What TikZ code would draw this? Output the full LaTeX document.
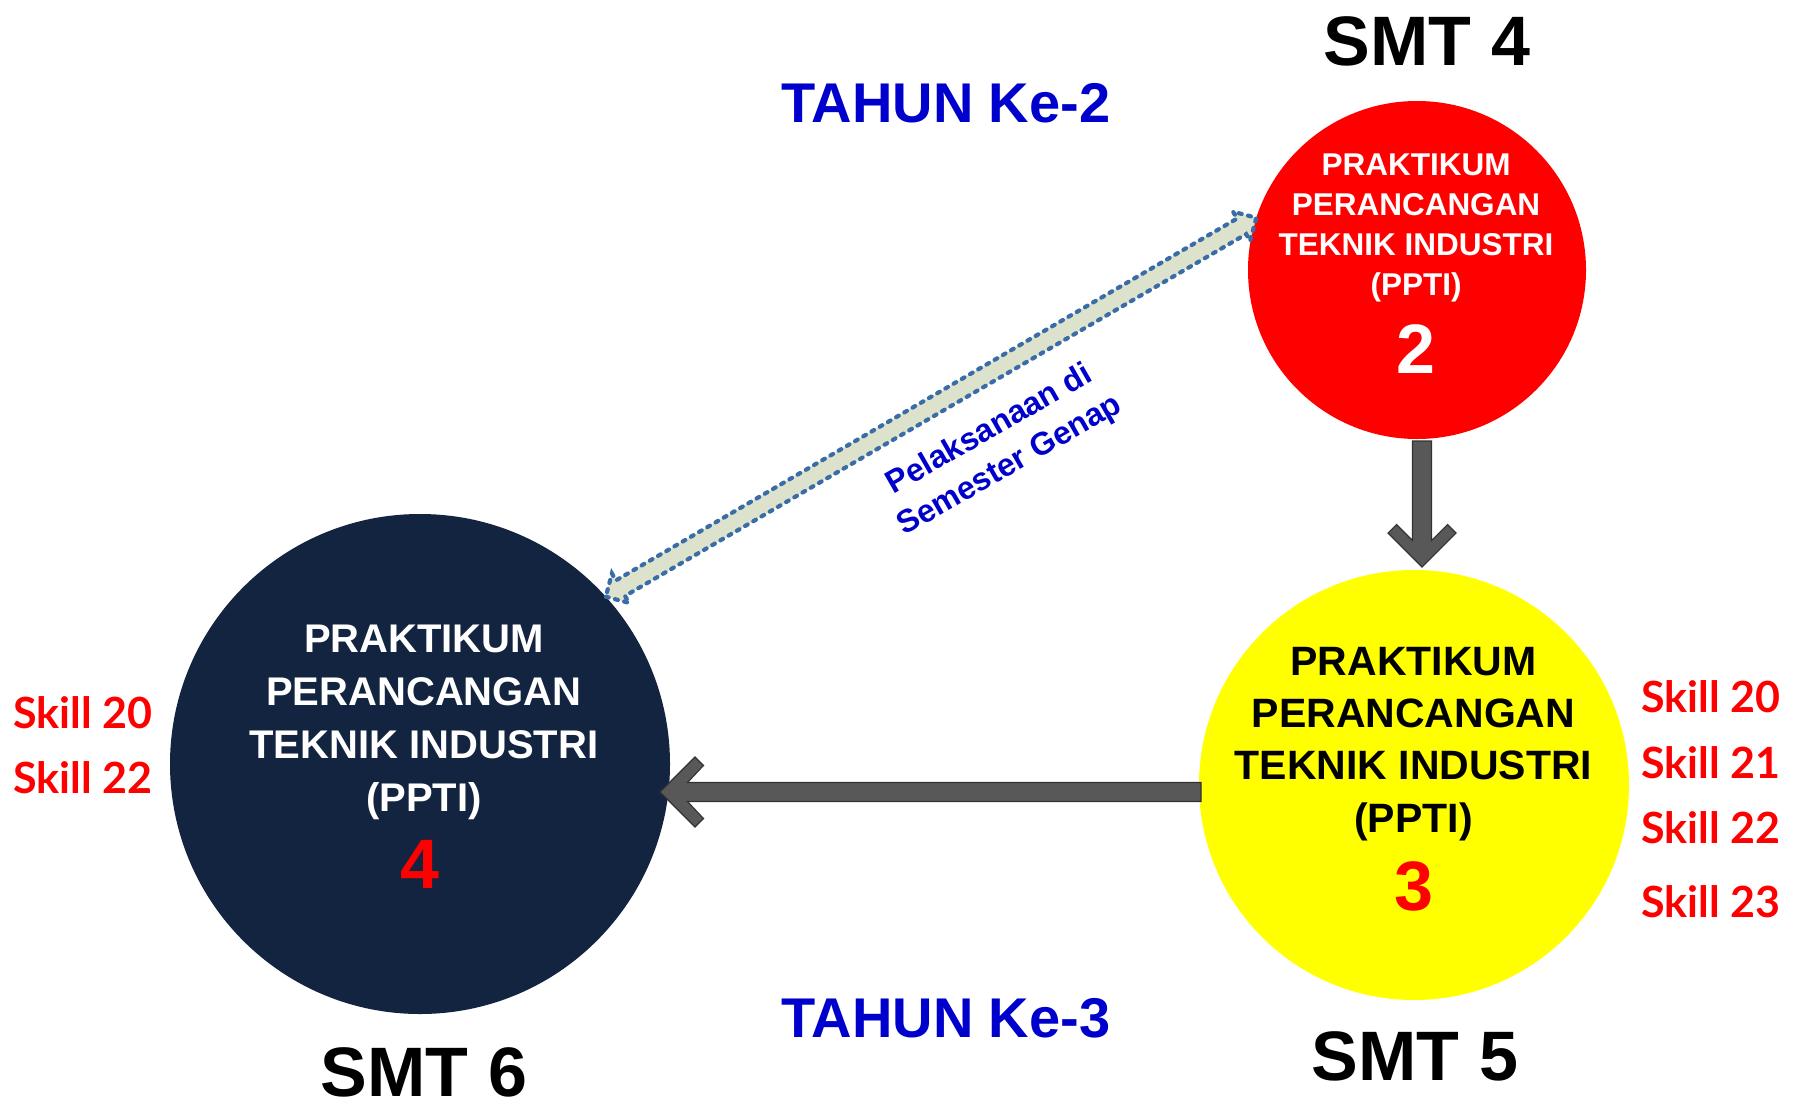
\documentclass[tikz,border=0pt]{standalone}
\usepackage{fontspec}
\setmainfont{Liberation Sans}
\newfontfamily\skillfont{Lato}
\usetikzlibrary{calc}
\definecolor{navyc}{RGB}{18,36,64}
\definecolor{redc}{RGB}{255,0,0}
\definecolor{yellowc}{RGB}{255,255,0}
\definecolor{bluec}{RGB}{0,0,204}
\definecolor{dotc}{RGB}{58,108,168}
\definecolor{sagec}{RGB}{221,226,204}
\definecolor{arrgray}{RGB}{88,88,88}
\definecolor{arredge}{RGB}{50,50,50}
\begin{document}
\begin{tikzpicture}[x=1pt,y=-1pt,
  circ/.style={circle,draw=none,inner sep=0pt,outer sep=0pt},
  smtlabel/.style={anchor=base,text=black,font=\bfseries\fontsize{70}{84}\selectfont},
  yearlabel/.style={anchor=base,text=bluec,font=\bfseries\fontsize{56}{66}\selectfont},
  skilllabel/.style={anchor=base,text=redc,font=\skillfont\bfseries\fontsize{43}{50}\selectfont},
  bignum/.style={anchor=base,font=\bfseries\fontsize{70}{84}\selectfont},
  grayarrow/.style={fill=arrgray,draw=arredge,line width=1.1pt,line join=miter},
  dotarrow/.style={fill=sagec,draw=dotc,line width=4.2pt,line cap=round,dash pattern=on 3pt off 6.5pt}
]
\useasboundingbox (0,0) rectangle (1806,1103);
\fill[white] (0,0) rectangle (1806,1103);

% circles
\node[circ,fill=redc,minimum size=338pt] (red) at (1417,270) {};
\node[circ,fill=yellowc,minimum size=430pt] (yellow) at (1414,785) {};
\node[circ,fill=navyc,minimum size=500pt] (dark) at (420,764) {};

% circle texts (base anchor = baseline of last line)
\node[anchor=base,align=center,text=white,font=\bfseries\fontsize{31.5}{40}\selectfont] (redtxt) at (1416,295)
  {PRAKTIKUM\\PERANCANGAN\\TEKNIK INDUSTRI\\(PPTI)};
\node[bignum,text=white] (rednum) at (1416,373) {2};

\node[anchor=base,align=center,text=black,font=\bfseries\fontsize{41}{52.3}\selectfont] (yeltxt) at (1413.5,832)
  {PRAKTIKUM\\PERANCANGAN\\TEKNIK INDUSTRI\\(PPTI)};
\node[bignum,text=redc] (yelnum) at (1413.5,910) {3};

\node[anchor=base,align=center,text=white,font=\bfseries\fontsize{40}{52.7}\selectfont] (darktxt) at (424,811)
  {PRAKTIKUM\\PERANCANGAN\\TEKNIK INDUSTRI\\(PPTI)};
\node[bignum,text=redc] (darknum) at (420,888) {4};

% semester labels
\node[smtlabel] (smt4) at (1427,65) {SMT 4};
\node[smtlabel] (smt5) at (1415,1080) {SMT 5};
\node[smtlabel] (smt6) at (424,1096) {SMT 6};

% year labels
\node[yearlabel] (year2) at (946,122) {TAHUN Ke-2};
\node[yearlabel] (year3) at (946,1037) {TAHUN Ke-3};

% skills
\node[skilllabel] (ls20) at (83,728) {Skill 20};
\node[skilllabel] (ls22) at (83,793) {Skill 22};
\node[skilllabel] (rs20) at (1711,712) {Skill 20};
\node[skilllabel] (rs21) at (1711,778) {Skill 21};
\node[skilllabel] (rs22) at (1711,843) {Skill 22};
\node[skilllabel] (rs23) at (1711,917) {Skill 23};

% down arrow red -> yellow
\coordinate (dtip) at ($(yellow.north)+(8,-3)$);
\coordinate (dtop) at ($(red.south)+(5,2)$);
\draw[grayarrow] (dtip) -- ($(dtip)+(-34,-34)$) -- ($(dtip)+(-25.5,-42.5)$) -- ($(dtip)+(-9.5,-26.5)$)
  -- ($(dtop)+(-9.5,0)$) -- ($(dtop)+(9.5,0)$) -- ($(dtip)+(9.5,-26.5)$)
  -- ($(dtip)+(25.5,-42.5)$) -- ($(dtip)+(34,-34)$) -- cycle;

% left arrow yellow -> dark
\coordinate (htip) at ($(dark.east)+(-10,28)$);
\coordinate (hend) at ($(yellow.west)+(2,7)$);
\draw[grayarrow] (htip) -- ($(htip)+(35,-35)$) -- ($(htip)+(43.5,-26.5)$) -- ($(htip)+(27.5,-9.5)$)
  -- ($(hend)+(0,-9.5)$) -- ($(hend)+(0,9.5)$) -- ($(htip)+(27.5,9.5)$)
  -- ($(htip)+(43.5,26.5)$) -- ($(htip)+(35,35)$) -- cycle;

% dotted double arrow dark <-> red
\coordinate (A) at (dark.42.4);
\coordinate (B) at (red.162.8);
\coordinate (A1) at ($(A)!17pt!(B)$);
\coordinate (B1) at ($(B)!17pt!(A)$);
\draw[dotarrow] (A) -- ($(A1)!17pt!-90:(B)$) -- ($(A1)!9pt!-90:(B)$) -- ($(B1)!9pt!90:(A)$)
  -- ($(B1)!17pt!90:(A)$) -- (B) -- ($(B1)!17pt!-90:(A)$) -- ($(B1)!9pt!-90:(A)$)
  -- ($(A1)!9pt!90:(B)$) -- ($(A1)!17pt!90:(B)$) -- cycle;

\node[rotate=29.76,align=center,text=bluec,font=\bfseries\fontsize{32}{41}\selectfont] (pel) at (1000,448)
  {Pelaksanaan di\\Semester Genap};
\end{tikzpicture}
\end{document}
